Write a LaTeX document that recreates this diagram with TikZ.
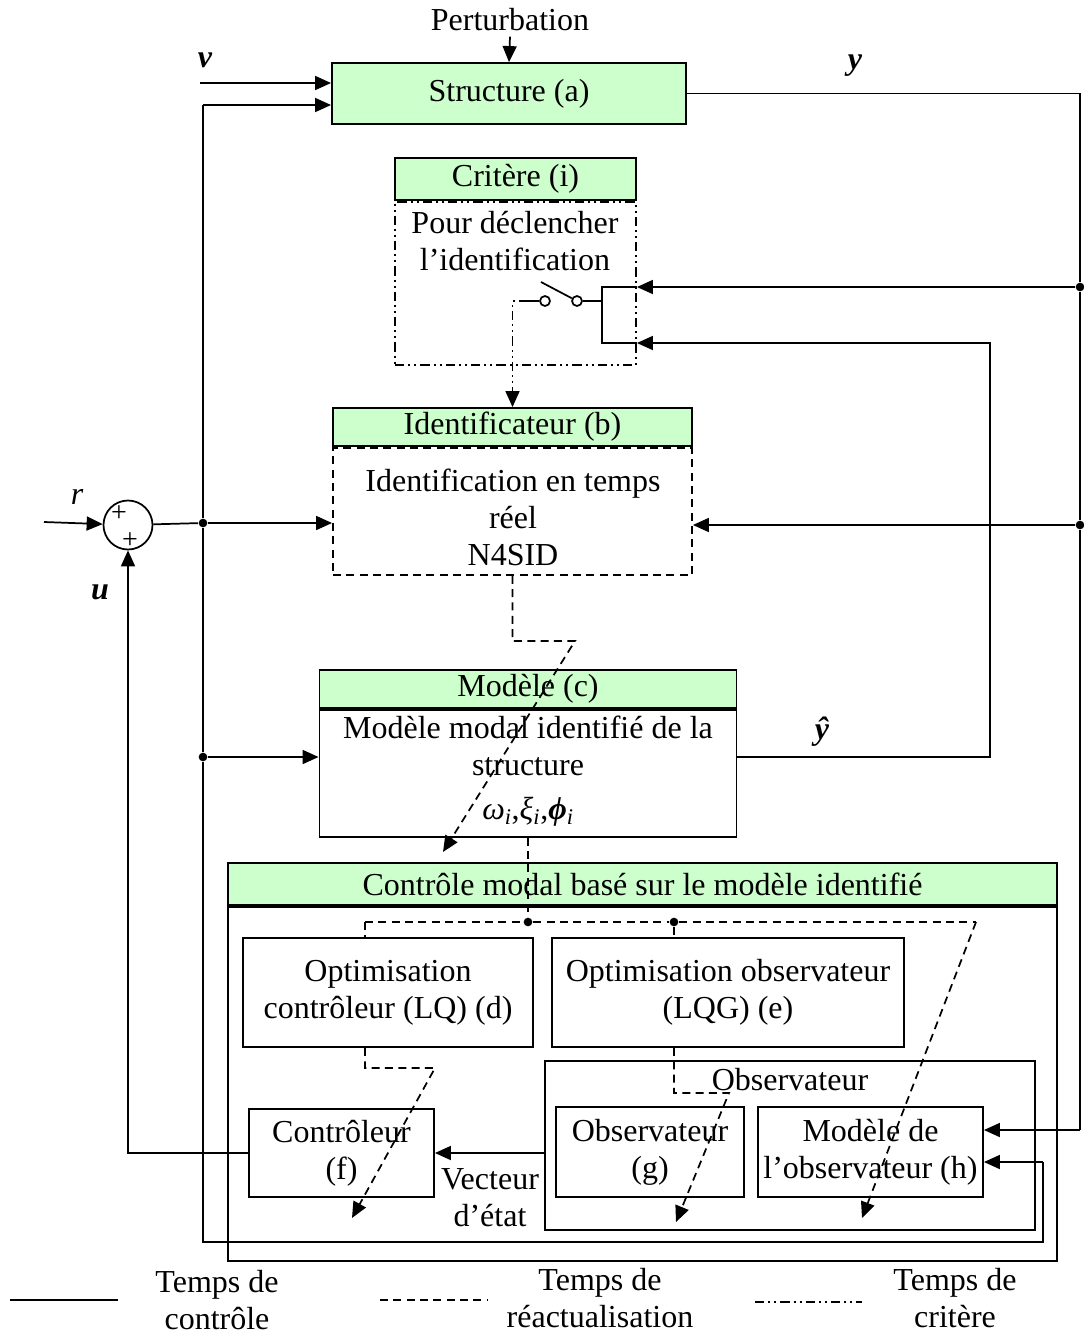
\documentclass[tikz,border=0pt]{standalone}
\usepackage{fontspec}
\setmainfont{Liberation Serif}
\usepackage{xcolor}
\usetikzlibrary{arrows.meta,positioning,calc}
\definecolor{headgreen}{HTML}{CCFFCC}

\begin{document}
\begin{tikzpicture}[
  x=0.75pt, y=-0.75pt,
  font=\fontsize{24pt}{27.75pt}\selectfont,
  line width=1.3pt,
  blk/.style 2 args={rectangle, draw, line width=1.4pt, minimum width=#1*0.75pt, minimum height=#2*0.75pt, inner sep=0pt, align=center},
  head/.style={fill=headgreen},
  arrow/.style={-{Triangle[length=12pt,width=10.5pt]}},
  upd/.style={dash pattern=on 6pt off 4pt},
  crit/.style={dash pattern=on 7pt off 3pt on 1.5pt off 3pt on 1.5pt off 3pt},
  dot/.style={circle, fill, inner sep=0pt, minimum size=6.5pt},
  sign/.style={font=\fontsize{21pt}{21pt}\selectfont, inner sep=0pt},
  lbl/.style={font=\fontsize{24pt}{24pt}\selectfont\bfseries\itshape}
]
  \useasboundingbox (0,0) rectangle (1083,1335);

  % blocks
  \node[blk={354}{61}, head] (struct) at (509,93.5) {Structure (a)};
  \node (pert) at (510,20) {Perturbation};

  \node[blk={241}{42}, head] (crithead) at (515.5,179) {Critère (i)};
  \node[blk={241}{163}, crit, below=0pt of crithead] (critbody) {};
  \node[blk={241}{42}, head] at (crithead) {Critère (i)};
  \node[align=center] (crittxt) at (515,241) {Pour déclencher\\l’identification};

  \node[blk={359}{38}, head] (idhead) at (512.5,427) {Identificateur (b)};
  \node[blk={359}{127}, upd, below=0pt of idhead] (idbody) {};
  \node[align=center] (idtxt) at (513,517) {Identification en temps\\réel\\N4SID};

  \node[blk={417}{38}, head] (modhead) at (528,689) {Modèle (c)};
  \node[blk={417}{127}, below=0pt of modhead] (modbody) {};
  \node[align=center] (modtxt) at (528,771) {Modèle modal identifié de la\\structure\\[5pt]\textit{ω}\textsubscript{\textit{i}},\textit{ξ}\textsubscript{\textit{i}},\textbf{\textit{ϕ}}\textsubscript{\textit{i}}};

  \node[blk={829}{42}, head] (ctrlhead) at (642.5,884) {Contrôle modal basé sur le modèle identifié};
  \node[blk={829}{354}, below=0pt of ctrlhead] (ctrlbody) {};

  \node[blk={290}{109}] (optc) at (388,992.5) {Optimisation\\contrôleur (LQ) (d)};
  \node[blk={352}{109}] (opto) at (728,992.5) {Optimisation observateur\\(LQG) (e)};
  \node[blk={490}{169}] (obsbox) at (790,1145.5) {};
  \node (obstxt) at (790,1080) {Observateur};
  \node[blk={188}{90}] (obsg) at (650,1152) {Observateur\\(g)};
  \node[blk={225}{90}] (obsh) at (870.5,1152) {Modèle de\\l’observateur (h)};
  \node[blk={185}{88}] (ctrlf) at (341.5,1153) {Contrôleur\\(f)};
  \node[align=center] (vect) at (490,1198) {Vecteur\\d’état};

  % sum
  \node[circle, draw, minimum size=49*0.75pt, inner sep=0pt] (sum) at (128,525) {};
  \node[sign] (p1) at (119,514) {+};
  \node[sign] (p2) at (130,541) {+};

  % labels
  \node[lbl] (vlab) at (205,60) {v};
  \node[lbl] (ylab) at (855,66) {y};
  \node[lbl] (yhlab) at (822,732) {ŷ};
  \node[lbl] (ulab) at (100,592) {u};
  \node[font=\fontsize{24pt}{24pt}\selectfont\itshape] (rlab) at (77,497) {r};

  % switch
  \node[circle, draw, inner sep=0pt, minimum size=7.5pt] (swa) at (545,301) {};
  \node[circle, draw, inner sep=0pt, minimum size=7.5pt] (swb) at (577,301) {};
  \coordinate (swl) at (528,301);
  \coordinate (swr) at (602,301);
  \coordinate (blade) at (541,282);

  % points
  \coordinate (vin) at (200,83);
  \coordinate (vtop) at (203,105);
  \coordinate (vbot) at (203,1242);
  \coordinate (loopr) at (1043,1242);
  \coordinate (loopin) at (1043,1162);
  \coordinate (rin) at (44,522);
  \coordinate (hin) at (1080,1130);
  \coordinate (yh) at (990,343);
  \node[dot] (j1) at (203,523) {};
  \node[dot] (j2) at (203,757) {};
  \node[dot] (j3) at (1080,287) {};
  \node[dot] (j4) at (1080,525) {};

  % control time
  \draw[arrow] (pert.south) -- (struct.north);
  \draw[arrow] (vin) -- (vin -| struct.west);
  \draw[arrow] (vtop) -- (vtop -| struct.west);
  \draw (vtop) -- (j1) -- (j2) -- (vbot) -- (loopr) -- (loopin);
  \draw[arrow] (loopin) -- (loopin -| obsh.east);
  \draw (struct.east) -| (j3);
  \draw (j3) -- (j4) -- (hin);
  \draw[arrow] (hin) -- (hin -| obsh.east);
  \draw[arrow] (rin) -- (sum);
  \draw (sum) -- (j1);
  \draw[arrow] (j1) -- (j1 -| idbody.west);
  \draw[arrow] (j4) -- (j4 -| idbody.east);
  \draw[arrow] (j2) -- (j2 -| modbody.west);
  \draw[arrow] (ctrlf.west) -| (sum.south);
  \draw[arrow] (modbody.east |- j2) -| (yh) -- (yh -| critbody.east);
  \draw[arrow] (j3) -- (j3 -| critbody.east);
  \draw (j3 -| critbody.east) -- (j3 -| swr) -- (yh -| swr) -- (yh -| critbody.east);
  \draw (swb) -- (swr);
  \draw (swb) -- (blade);
  \draw (swa) -- (swl);
  \draw[arrow] (obsbox.west |- ctrlf.east) -- (ctrlf.east);

  % criterion time
  \draw[crit, arrow] (swl) -| (idhead.north);

  % update time
  \coordinate (u1) at (575,641);
  \coordinate (a0) at (443,852);
  \draw[upd, arrow] (idbody.south) |- (u1) -- (a0);
  \node[dot] (d1) at (528,922) {};
  \node[dot] (d2) at (674,922) {};
  \coordinate (dl) at (365,922);
  \coordinate (dr) at (976,922);
  \draw[upd] (modbody.south) -- (d1);
  \draw[upd] (dl) -- (d1) -- (d2) -- (dr);
  \draw[upd] (dl) -- (dl |- optc.north);
  \draw[upd] (d2) -- (d2 |- opto.north);
  \coordinate (u2) at (435,1068);
  \coordinate (a1) at (352,1218);
  \coordinate (u3) at (729,1093);
  \coordinate (a2) at (676,1222);
  \coordinate (a3) at (862,1218);
  \draw[upd, arrow] (dl |- optc.south) |- (u2) -- (a1);
  \draw[upd, arrow] (d2 |- opto.south) |- (u3) -- (a2);
  \draw[upd, arrow] (dr) -- (a3);

  % legend
  \coordinate (l1a) at (10,1300);
  \coordinate (l1b) at (118,1300);
  \coordinate (l2a) at (380,1300);
  \coordinate (l2b) at (487,1300);
  \coordinate (l3a) at (755,1302);
  \coordinate (l3b) at (862,1302);
  \draw (l1a) -- (l1b);
  \draw[upd] (l2a) -- (l2b);
  \draw[crit] (l3a) -- (l3b);
  \node[align=center] (leg1) at (217,1300) {Temps de\\contrôle};
  \node[align=center] (leg2) at (600,1298) {Temps de\\réactualisation};
  \node[align=center] (leg3) at (955,1298) {Temps de\\critère};
\end{tikzpicture}
\end{document}
